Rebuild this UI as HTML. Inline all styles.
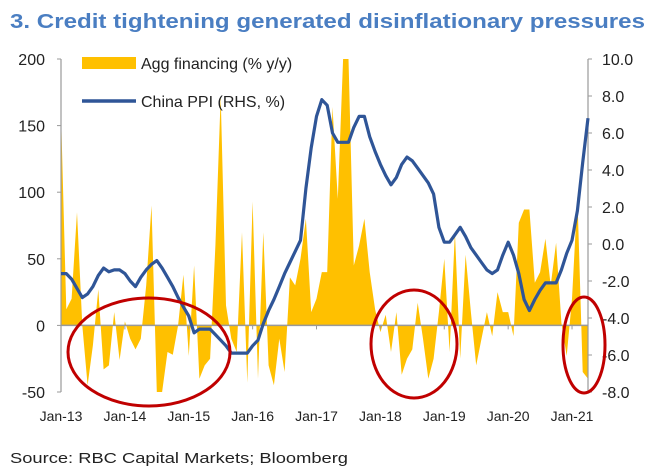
<!DOCTYPE html>
<html><head><meta charset="utf-8"><style>
html,body{margin:0;padding:0;background:#fff;}
svg{display:block;font-family:"Liberation Sans",sans-serif;}
</style></head><body>
<svg id="chart" width="653" height="474" viewBox="0 0 653 474">
<text x="10" y="28" font-size="20" font-weight="bold" fill="#4A7EC2" textLength="635" lengthAdjust="spacingAndGlyphs">3. Credit tightening generated disinflationary pressures</text>
<g id="plot"></g>
<text x="10" y="463" font-size="15" fill="#222" textLength="338" lengthAdjust="spacingAndGlyphs">Source: RBC Capital Markets; Bloomberg</text>
</svg>
<script>
const months = 100; // Jan-13 .. Apr-21
const xTickLabels = ["Jan-13","Jan-14","Jan-15","Jan-16","Jan-17","Jan-18","Jan-19","Jan-20","Jan-21"];
const leftTicks = [200,150,100,50,0,-50];
const rightTicks = [10,8,6,4,2,0,-2,-4,-6,-8];
const aggFinancing = [160,12,20,85,0,-45,-15,27,-33,-30,10,-26,3,-10,-18,-10,30,90,-52,-52,-20,-22,0,38,-23,45,-40,-30,-25,60,172,15,-10,-20,70,-43,93,-40,70,-30,-45,-10,-35,36,30,50,80,10,20,40,40,164,95,200,200,45,60,80,40,12,-5,8,-20,10,-37,-25,-18,17,-10,-40,-25,10,50,-20,70,-25,53,10,-30,-10,10,-8,25,10,10,-8,77,87,87,32,40,65,30,62,2,-23,20,97,-35,-40];
const chinaPPI = [-1.6,-1.6,-1.9,-2.4,-2.9,-2.7,-2.3,-1.7,-1.3,-1.5,-1.4,-1.4,-1.6,-2.0,-2.3,-1.8,-1.4,-1.1,-0.9,-1.3,-1.8,-2.3,-2.9,-3.4,-3.9,-4.8,-4.6,-4.6,-4.6,-4.9,-5.2,-5.5,-5.9,-5.9,-5.9,-5.9,-5.5,-5.2,-4.3,-3.6,-3.0,-2.3,-1.6,-1.0,-0.4,0.2,3.0,5.2,6.9,7.8,7.5,6.0,5.5,5.5,5.5,6.3,6.9,6.9,5.8,5.0,4.3,3.7,3.2,3.6,4.3,4.7,4.5,4.1,3.7,3.3,2.7,0.9,0.1,0.1,0.5,0.9,0.4,-0.2,-0.6,-1.0,-1.4,-1.6,-1.4,-0.6,0.1,-0.6,-1.6,-3.0,-3.6,-3.0,-2.5,-2.1,-2.1,-2.1,-1.4,-0.5,0.2,1.8,4.4,6.8];

const NS="http://www.w3.org/2000/svg";
const X0=61, X1=588, YT=59, YB=392;
const x = m => X0 + m*(X1-X0)/(months-1);
const yL = v => YB - (Math.max(-50,Math.min(200,v)) + 50)*(YB-YT)/250;
const yR = v => YB - (v + 8)*(YB-YT)/18;
const g = document.getElementById('plot');
function mk(tag, attrs){const e=document.createElementNS(NS,tag);for(const k in attrs)e.setAttribute(k,attrs[k]);g.appendChild(e);return e;}

let d = `M${x(0)},${yL(0)}`;
aggFinancing.forEach((v,i)=>{d+=` L${x(i).toFixed(1)},${yL(v).toFixed(1)}`;});
d += ` L${x(months-1)},${yL(0)} Z`;
const area = mk('path',{d:d,fill:'#FFC000',stroke:'none'});



const la = mk('line',{x1:X0,y1:YT,x2:X0,y2:YB,stroke:'#999','stroke-width':1.2});


const ra = mk('line',{x1:X1,y1:YT,x2:X1,y2:YB,stroke:'#999','stroke-width':1.2});


const za = mk('line',{x1:X0,y1:yL(0),x2:X1,y2:yL(0),stroke:'#999','stroke-width':1.5});



leftTicks.forEach(v=>{
  mk('line',{x1:X0-4,y1:yL(v),x2:X0,y2:yL(v),stroke:'#999'});
  const t = mk('text',{x:45,y:yL(v)+6,'font-size':16,'text-anchor':'end',fill:'#222'});
  t.textContent = v;
  
  
});
rightTicks.forEach(v=>{
  mk('line',{x1:X1,y1:yR(v),x2:X1+4,y2:yR(v),stroke:'#999'});
  const t = mk('text',{x:602,y:yR(v)+6,'font-size':16,fill:'#222'});
  t.textContent = v.toFixed(1);
  
  
});
xTickLabels.forEach((lab,i)=>{
  const xx = x(i*12);
  mk('line',{x1:xx,y1:yL(0),x2:xx,y2:yL(0)+4,stroke:'#999'});
  const t = mk('text',{x:xx,y:421,'font-size':14,'text-anchor':'middle',fill:'#222'});
  t.textContent = lab;
  
  
});

const pts = chinaPPI.map((v,i)=>`${x(i).toFixed(1)},${yR(v).toFixed(1)}`).join(' ');
const line = mk('polyline',{points:pts,fill:'none',stroke:'#2F5597','stroke-width':3.2,'stroke-linejoin':'round'});



const ls = mk('rect',{x:82,y:57,width:54,height:12,fill:'#FFC000'});


const lt1 = mk('text',{x:141,y:69,'font-size':16,fill:'#222'});
lt1.textContent = 'Agg financing (% y/y)';


const ll = mk('line',{x1:82,y1:101,x2:136,y2:101,stroke:'#2F5597','stroke-width':3.5});


const lt2 = mk('text',{x:141,y:107,'font-size':16,fill:'#222'});
lt2.textContent = 'China PPI (RHS, %)';



const e1 = mk('ellipse',{cx:149,cy:352,rx:81,ry:54,fill:'none',stroke:'#C00000','stroke-width':3});


const e2 = mk('ellipse',{cx:414,cy:344,rx:43,ry:54,fill:'none',stroke:'#C00000','stroke-width':3});


const e3 = mk('ellipse',{cx:584,cy:345,rx:21,ry:48,fill:'none',stroke:'#C00000','stroke-width':3});


</script>
</body></html>
